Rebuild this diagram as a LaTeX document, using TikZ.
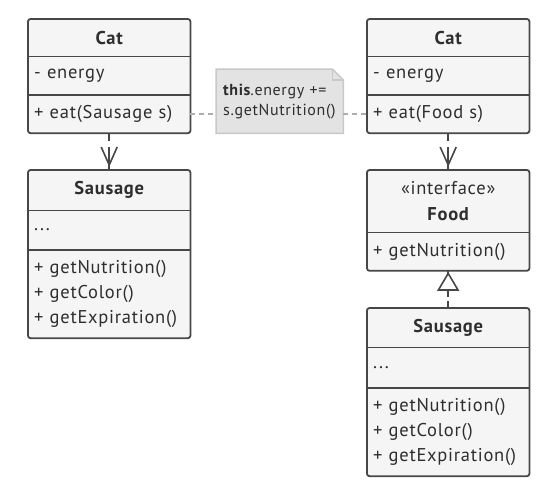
\documentclass[tikz,border=0pt]{standalone}
\usepackage{fontspec}
\setmainfont{PT Sans}[LetterSpace=4]
\usepackage{xcolor}
\usepackage{tikz}
\usetikzlibrary{positioning}
\usetikzlibrary{arrows.meta}
\usetikzlibrary{decorations.markings}
\usetikzlibrary{backgrounds}

\definecolor{umlline}{HTML}{474747}
\definecolor{umlfill}{HTML}{F5F5F5}
\definecolor{umltext}{HTML}{2E2E2E}
\definecolor{notefill}{HTML}{E3E3E3}
\definecolor{noteline}{HTML}{C8C8C8}
\definecolor{linkgray}{HTML}{ADADAD}

\begin{document}
\begin{tikzpicture}[x=1pt,y=-1pt,
  sect/.style={rectangle,fill=umlfill,text=umltext,inner xsep=6pt,inner ysep=0pt,text width=150pt,align=left,anchor=north west,font=\fontsize{18.5}{25}\selectfont},
  head/.style={sect,align=center,font=\fontsize{18.5}{26}\selectfont\bfseries},
  outline/.style={draw=umlline,line width=1.8pt,rounded corners=2.5pt},
  depend/.style={draw=umlline,line width=1.6pt,dash pattern=on 8pt off 6pt,
    decoration={markings,mark=at position -3pt with {\draw[solid,line width=1.6pt,umlline] (-20pt,0pt) -- (0pt,0pt);\arrow[solid]{Straight Barb[length=18pt,width=16pt]}}},postaction=decorate},
  realize/.style={draw=umlline,line width=1.6pt,dash pattern=on 7pt off 4pt,
    decoration={markings,mark=at position -1pt with {\arrow[solid]{Triangle[length=19pt,width=22pt,fill=white]}}},postaction=decorate},
  notetext/.style={rectangle,text=umltext,inner xsep=7pt,inner ysep=0pt,text width=113pt,minimum height=64pt,align=left,anchor=north west,font=\fontsize{16}{20}\selectfont},
  notebox/.style={draw=noteline,fill=notefill,line width=1.5pt},
  notelink/.style={draw=linkgray,line width=1.3pt,dash pattern=on 5pt off 4pt}]
\useasboundingbox (0,0) rectangle (553,490);

% left side
\node at (28,19) [head,minimum height=37pt] (catA) {Cat};
\node [sect,minimum height=38pt,below=0pt of catA] (catAattr) {- energy};
\node [sect,minimum height=38pt,below=0pt of catAattr] (catAops) {+ eat(Sausage s)};

\node at (28,170) [head,minimum height=40pt] (sausA) {Sausage};
\node [sect,minimum height=39pt,below=0pt of sausA] (sausAattr) {...};
\node [sect,minimum height=88pt,below=0pt of sausAattr] (sausAops) {+ getNutrition()\\+ getColor()\\+ getExpiration()};

% right side
\node at (367,19) [head,minimum height=37pt] (catB) {Cat};
\node [sect,minimum height=38pt,below=0pt of catB] (catBattr) {- energy};
\node [sect,minimum height=38pt,below=0pt of catBattr] (catBops) {+ eat(Food s)};

\node at (367,170) [head,minimum height=62pt] (food) {{\mdseries «interface»}\\Food};
\node [sect,minimum height=38pt,below=0pt of food] (foodops) {+ getNutrition()};

\node at (367,308) [head,minimum height=39pt] (sausB) {Sausage};
\node [sect,minimum height=40pt,below=0pt of sausB] (sausBattr) {...};
\node [sect,minimum height=88pt,below=0pt of sausBattr] (sausBops) {+ getNutrition()\\+ getColor()\\+ getExpiration()};

% note
\node at (216,69) [notetext] (note) {\textbf{this}.energy +=\\s.getNutrition()};
\begin{scope}[on background layer]
\draw[notebox] (note.north west) -- ([xshift=-11pt]note.north east) -- ([yshift=-11pt]note.north east) -- (note.south east) -- (note.south west) -- cycle;
\end{scope}
\draw[draw=noteline,line width=1.5pt] ([xshift=-11pt]note.north east) |- ([yshift=-11pt]note.north east);

% outlines
\foreach \a/\b in {catA/catAops,sausA/sausAops,catB/catBops,food/foodops,sausB/sausBops}
  \draw[outline] (\a.north west) rectangle (\b.south east);
\foreach \s in {catAattr,catAops,sausAattr,sausAops,catBattr,catBops,foodops,sausBattr,sausBops}
  \draw[outline] (\s.north west) -- (\s.north east);

% links
\draw[notelink] (catAops.east) -- (note.west |- catAops.east);
\draw[notelink] (note.east |- catBops.west) -- (catBops.west);
\draw[depend] (catAops) -- (sausA);
\draw[depend] (catBops) -- (food);
\draw[realize] (sausB) -- (foodops);
\end{tikzpicture}
\end{document}
